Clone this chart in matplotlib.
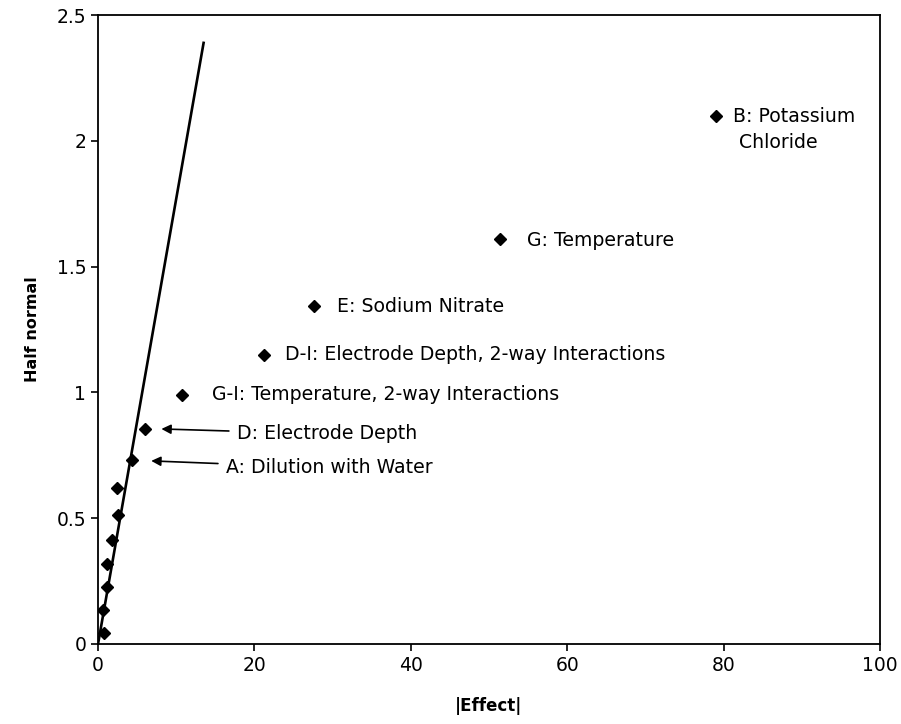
import matplotlib.pyplot as plt
from matplotlib.ticker import FuncFormatter

# effect magnitudes and half-normal scores
effect = [0.7, 0.6, 1.1, 1.1, 1.8, 2.5, 2.4, 4.3, 6.0, 10.7, 21.2, 27.6, 51.4, 79.0]
half_normal = [0.045, 0.135, 0.225, 0.319, 0.414, 0.514, 0.619, 0.732, 0.854,
               0.991, 1.150, 1.344, 1.611, 2.100]

# reference line
line_x = [0, 13.5]
line_y = [0, 2.39]

# plain labels (x, y, text)
labels = [
    (81.2, 2.10, "B: Potassium\n Chloride"),
    (54.9, 1.606, "G: Temperature"),
    (30.6, 1.343, "E: Sodium Nitrate"),
    (23.9, 1.150, "D-I: Electrode Depth, 2-way Interactions"),
    (14.6, 0.991, "G-I: Temperature, 2-way Interactions"),
]
# arrow labels (text, tip, text position)
arrow_labels = [
    ("D: Electrode Depth", (8.1, 0.855), (17.8, 0.835)),
    ("A: Dilution with Water", (6.8, 0.728), (16.4, 0.700)),
]

plt.rcParams["font.family"] = ["DejaVu Sans"]
fig = plt.figure(figsize=(9.01, 7.24), dpi=100)
ax = fig.add_axes([0.1088, 0.1105, 0.8679, 0.8685])

ax.plot(line_x, line_y, color="black", lw=1.9, zorder=2)
ax.plot(effect, half_normal, "D", color="black", ms=6.5, zorder=3)

fs = 13.6
for x, y, t in labels:
    if "\n" in t:
        # first line centred on the point, second line below
        ax.text(x, y + 0.036, t, fontsize=fs, va="top", ha="left",
                linespacing=1.45)
    else:
        ax.text(x, y, t, fontsize=fs, va="center", ha="left")

for t, tip, pos in arrow_labels:
    ax.annotate(t, xy=tip, xytext=pos, fontsize=fs, va="center", ha="left",
                arrowprops=dict(arrowstyle="-|>", color="black", lw=1.2,
                                shrinkA=4, shrinkB=0, mutation_scale=14))

ax.set_xlim(0, 100)
ax.set_ylim(0, 2.5)
ax.set_xticks([0, 20, 40, 60, 80, 100])
ax.set_yticks([0, 0.5, 1, 1.5, 2, 2.5])
ax.yaxis.set_major_formatter(FuncFormatter(lambda v, p: "%g" % v))
ax.tick_params(direction="out", length=5, width=1.2, labelsize=13.5)
for s in ax.spines.values():
    s.set_linewidth(1.3)

ax.set_xlabel("|Effect|", fontsize=12, fontweight="bold", labelpad=16)
ax.set_ylabel("Half normal", fontsize=11.5, fontweight="bold", labelpad=12)

fig.savefig("out.png", dpi=100)
